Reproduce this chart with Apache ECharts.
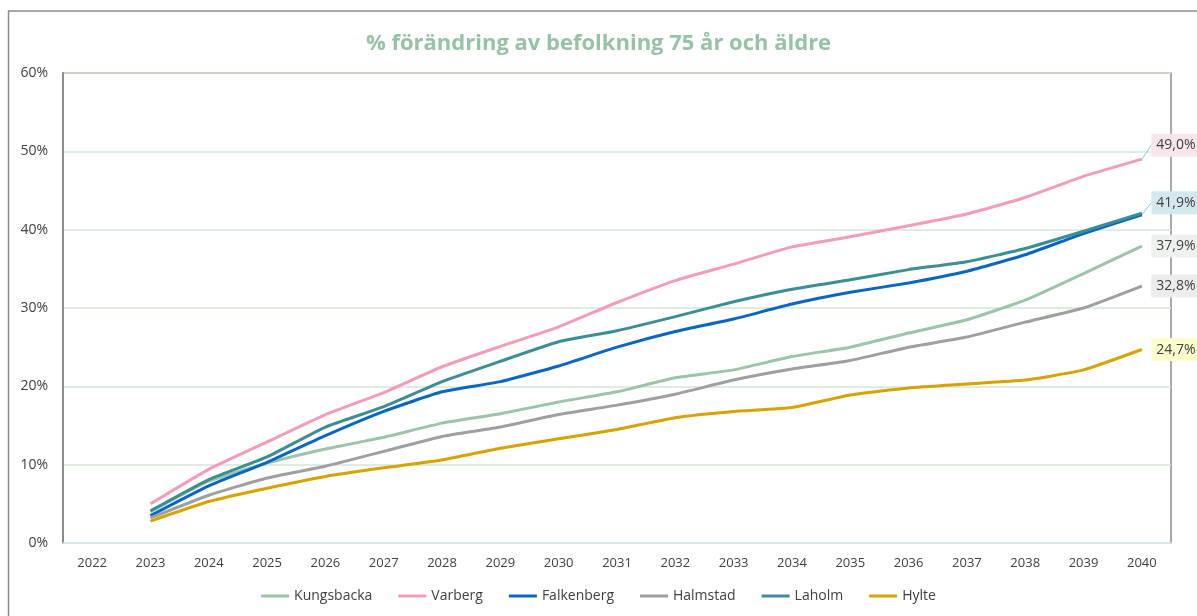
<!DOCTYPE html>
<html>
<head>
<meta charset="utf-8">
<script src="https://cdn.jsdelivr.net/npm/echarts@6/dist/echarts.min.js"></script>
<style>
    html, body { margin: 0; padding: 0; background: #fff; }
    #chart { width: 1197px; height: 616px; }
</style>
</head>
<body>
<div id="chart"></div>
<script>
'use strict';

// år på x-axeln
const years = ['2022', '2023', '2024', '2025', '2026', '2027', '2028', '2029', '2030', '2031',
    '2032', '2033', '2034', '2035', '2036', '2037', '2038', '2039', '2040'];

// % förändring per kommun (2022 saknar värde)
const kungsbacka = [null, 4.0, 7.9, 10.2, 12.0, 13.5, 15.3, 16.5, 18.0, 19.3, 21.1, 22.1, 23.8, 25.0, 26.8, 28.5, 31.0, 34.4, 37.9];
const varberg = [null, 5.0, 9.4, 12.9, 16.4, 19.2, 22.5, 25.1, 27.6, 30.7, 33.5, 35.6, 37.8, 39.1, 40.5, 42.0, 44.1, 46.8, 49.0];
const falkenberg = [null, 3.5, 7.3, 10.3, 13.7, 16.8, 19.3, 20.6, 22.6, 25.0, 27.0, 28.6, 30.5, 32.0, 33.2, 34.7, 36.8, 39.5, 41.9];
const halmstad = [null, 3.2, 6.1, 8.3, 9.8, 11.7, 13.6, 14.8, 16.4, 17.6, 19.0, 20.8, 22.2, 23.3, 25.0, 26.3, 28.2, 30.0, 32.8];
const laholm = [null, 4.1, 8.1, 11.0, 14.8, 17.4, 20.6, 23.2, 25.7, 27.1, 28.9, 30.8, 32.4, 33.6, 34.9, 35.9, 37.6, 39.8, 42.1];
const hylte = [null, 2.8, 5.3, 7.0, 8.5, 9.6, 10.6, 12.1, 13.3, 14.5, 16.0, 16.8, 17.3, 18.9, 19.8, 20.3, 20.8, 22.1, 24.7];

const yTicks = [0, 10, 20, 30, 40, 50, 60];

function makeChart() {

    // etikett på sista punkten
    function withEndLabel(values, color, bg) {
        let last = values.length - 1;
        return values.map(function (v, i) {
            if (i !== last) {
                return v;
            }
            return {
                value: v,
                symbol: 'circle',
                symbolSize: 1,
                itemStyle: { color: color },
                label: {
                    show: true,
                    position: 'right',
                    distance: 9,
                    formatter: function (p) {
                        return p.value.toFixed(1).replace('.', ',') + '%';
                    },
                    color: '#404040',
                    fontFamily: 'Open Sans',
                    fontSize: 14,
                    backgroundColor: bg,
                    padding: [5, 5, 4, 5]
                }
            };
        });
    }

    function lineSeries(name, values, color, bg, dy) {
        let s = {
            name: name,
            type: 'line',
            symbol: 'none',
            showSymbol: true,
            smooth: 0.15,
            data: bg ? withEndLabel(values, color, bg) : values,
            lineStyle: { color: color, width: 3 },
            itemStyle: { color: color }
        };
        if (dy) {
            s.labelLayout = { dy: dy };
            s.labelLine = { show: true, lineStyle: { color: '#7cc8ef', width: 1 } };
        }
        return s;
    }

    let myChart = echarts.init(document.getElementById('chart'));
    myChart.setOption({
        animation: false,
        backgroundColor: '#ffffff',
        title: {
            text: '% förändring av befolkning 75 år och äldre',
            left: 'center',
            top: 28,
            textStyle: {
                color: '#97c2a6',
                fontFamily: 'Open Sans',
                fontWeight: 'bold',
                fontSize: 22
            }
        },
        graphic: [{
            type: 'rect',
            shape: { x: 8.5, y: 11, width: 1200, height: 620 },
            style: { fill: 'none', stroke: '#8c8c8c', lineWidth: 1.5 },
            silent: true,
            z: -1
        }],
        legend: {
            bottom: 8,
            left: 'center',
            icon: 'rect',
            itemWidth: 28,
            itemHeight: 3,
            itemGap: 26,
            textStyle: { color: '#404040', fontFamily: 'Open Sans', fontSize: 14 },
            data: ['Kungsbacka', 'Varberg', 'Falkenberg', 'Halmstad', 'Laholm', 'Hylte']
        },
        grid: {
            left: 63,
            right: 26,
            top: 73,
            bottom: 73,
            show: true,
            borderColor: '#8c8c8c',
            borderWidth: 1.5
        },
        xAxis: {
            type: 'category',
            data: years,
            boundaryGap: true,
            axisLine: { lineStyle: { color: '#dcebf7', width: 1.5 } },
            axisTick: { show: false },
            axisLabel: { color: '#404040', fontFamily: 'Open Sans', fontSize: 13, margin: 14 }
        },
        yAxis: {
            type: 'value',
            min: yTicks[0],
            max: yTicks[yTicks.length - 1],
            interval: 10,
            axisLine: { show: true, lineStyle: { color: '#8c8c8c', width: 2 } },
            axisTick: { show: false },
            axisLabel: {
                formatter: '{value}%',
                color: '#404040',
                fontFamily: 'Open Sans',
                fontSize: 14,
                margin: 15
            },
            splitLine: { lineStyle: { color: '#d3e6d9', width: 1.5 } }
        },
        series: [
            lineSeries('Kungsbacka', kungsbacka, '#9cc4a8', '#eef2ef', 0),
            lineSeries('Varberg', varberg, '#f29cba', '#fbe5ec', -14),
            lineSeries('Falkenberg', falkenberg, '#0a66c2', '#d6e8ef', -12),
            lineSeries('Halmstad', halmstad, '#a09fa0', '#ececec', 0),
            lineSeries('Laholm', laholm, '#3b8e93', null, 0),
            lineSeries('Hylte', hylte, '#d6a300', '#fdfccc', 0)
        ]
    });
}

makeChart();
</script>
</body>
</html>
